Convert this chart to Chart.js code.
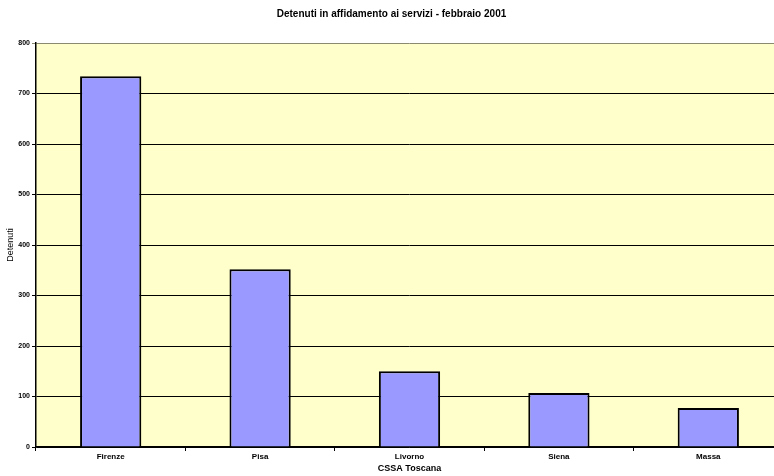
<!DOCTYPE html>
<html>
<head>
<meta charset="utf-8">
<script src="https://cdn.jsdelivr.net/npm/chart.js@4/dist/chart.umd.min.js"></script>
<style>
  html, body { margin: 0; padding: 0; background: #ffffff; overflow: hidden; }
  #wrap { width: 806px; height: 476px; }
</style>
</head>
<body>
<div id="wrap"><canvas id="chart" width="806" height="476"></canvas></div>
<script>
// Dati
const categories = ['Firenze', 'Pisa', 'Livorno', 'Siena', 'Massa'];
const detenuti = [734, 352, 150, 107, 77];
const yTicks = [0, 100, 200, 300, 400, 500, 600, 700, 800];

const FONT = '"Liberation Sans", Arial, sans-serif';

// plot area background
const plotBackground = {
    id: 'plotBackground',
    beforeDraw(chart) {
        const { ctx, chartArea: a } = chart;
        ctx.save();
        ctx.fillStyle = '#FFFFCC';
        ctx.fillRect(a.left, a.top, a.right - a.left, a.bottom - a.top);
        ctx.restore();
    }
};

new Chart(document.getElementById('chart').getContext('2d'), {
    type: 'bar',
    data: {
        labels: categories,
        datasets: [{
            label: 'Detenuti',
            data: detenuti,
            backgroundColor: '#9999FF',
            borderColor: '#000000',
            borderWidth: 2,
            borderSkipped: 'bottom',
            barPercentage: 0.41,
            categoryPercentage: 1.0
        }]
    },
    options: {
        responsive: false,
        animation: false,
        layout: { padding: { left: 0, right: 23, top: 0, bottom: 0 } },
        plugins: {
            legend: { display: false },
            tooltip: { enabled: false },
            title: {
                display: true,
                text: 'Detenuti in affidamento ai servizi - febbraio 2001',
                color: '#000000',
                font: { family: FONT, size: 10, weight: 'bold' },
                padding: { top: 8, bottom: 23 }
            }
        },
        scales: {
            x: {
                offset: true,
                grid: {
                    offset: true,
                    drawOnChartArea: false,
                    drawTicks: true,
                    tickLength: 4,
                    color: '#000000'
                },
                border: { color: '#000000', width: 1.5 },
                ticks: {
                    color: '#000000',
                    padding: 1,
                    font: { family: FONT, size: 8, weight: 'bold' }
                },
                title: {
                    display: true,
                    text: 'CSSA Toscana',
                    color: '#000000',
                    font: { family: FONT, size: 9, weight: 'bold' },
                    padding: { top: 0, bottom: 2 }
                },
                afterFit(scale) { scale.height = 29; }
            },
            y: {
                min: 0,
                max: 800,
                afterBuildTicks(scale) { scale.ticks = yTicks.map(v => ({ value: v })); },
                grid: {
                    color: ctx => (ctx.tick && ctx.tick.value === 800) ? '#8a8a70' : '#000000',
                    lineWidth: 1,
                    tickLength: 4
                },
                border: { color: '#000000', width: 1.5 },
                ticks: {
                    color: '#000000',
                    padding: 2,
                    font: { family: FONT, size: 7, weight: 'bold' }
                },
                title: {
                    display: true,
                    text: 'Detenuti',
                    color: '#000000',
                    font: { family: FONT, size: 9 },
                    padding: { top: 5, bottom: 0 }
                },
                afterFit(scale) { scale.width = 36; }
            }
        }
    },
    plugins: [plotBackground]
});
</script>
</body>
</html>
